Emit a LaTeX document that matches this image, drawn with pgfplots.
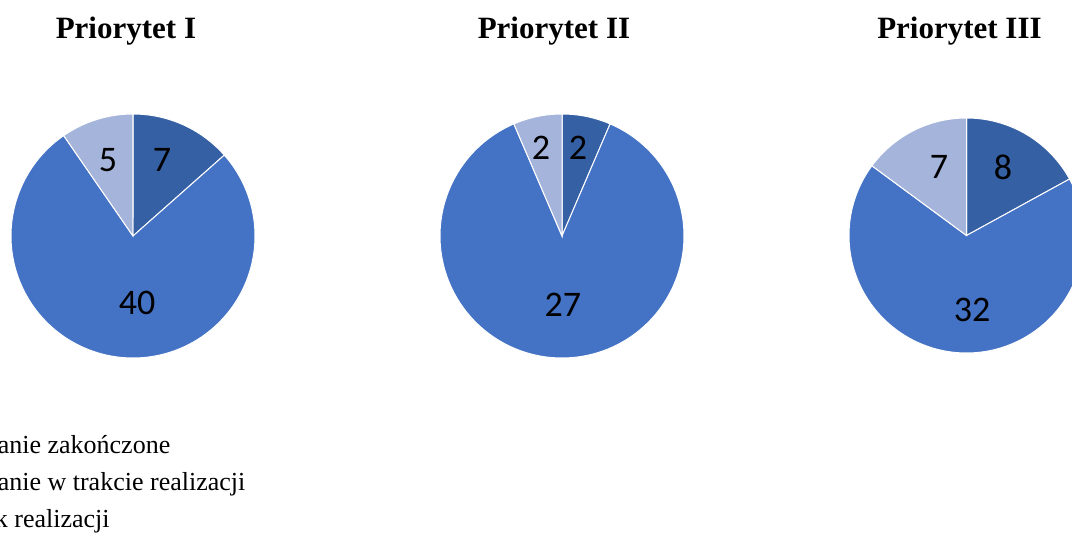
\documentclass[border=0pt]{standalone}
\usepackage{pgfplots}
\pgfplotsset{compat=1.18}
\usepackage{fontspec}
\setmainfont{Liberation Serif}
\newfontfamily\lblfont{Carlito}
\definecolor{cdark}{HTML}{3560A4}
\definecolor{cmid}{HTML}{4472C4}
\definecolor{clight}{HTML}{A5B4DB}

\pgfplotsset{
  pie/.style={hide axis, scale only axis, width=#1, height=#1,
    xmin=-1, xmax=1, ymin=-1, ymax=1, clip=false, anchor=center,
    title style={font=\bfseries\fontsize{31}{37}\selectfont, anchor=base}}
}
\tikzset{lbl/.style={font=\lblfont\fontsize{36}{36}\selectfont, inner sep=0pt}}
% \drawpie{done}{in progress}{none}: slices clockwise from 12 o'clock
\newcommand\drawpie[3]{%
  \addplot[fill=cdark, draw=white, line width=1pt, domain={90-360*(#1)/(#1+#2+#3)}:90, samples=90, variable=\t]
    ({cos(\t)},{sin(\t)}) -- (axis cs:0,0) -- cycle;
  \addplot[fill=cmid, draw=white, line width=1pt, domain={90-360*(#1+#2)/(#1+#2+#3)}:{90-360*(#1)/(#1+#2+#3)}, samples=180, variable=\t]
    ({cos(\t)},{sin(\t)}) -- (axis cs:0,0) -- cycle;
  \addplot[fill=clight, draw=white, line width=1pt, domain=-270:{90-360*(#1+#2)/(#1+#2+#3)}, samples=90, variable=\t]
    ({cos(\t)},{sin(\t)}) -- (axis cs:0,0) -- cycle;
}

\begin{document}
\begin{tikzpicture}
\path[use as bounding box, clip] (0pt,0pt) rectangle (1072pt,533pt);

% Priorytet I
\begin{axis}[pie=244pt, at={(133pt,297pt)},
  title={Priorytet I}, title style={at={(axis description cs:0.471,1.286)}},
  legend style={at={(axis description cs:-0.315,-0.520)}, anchor=west,
    draw=none, fill=none, inner sep=0pt,
    font=\fontsize{26}{31}\selectfont,
    nodes={inner sep=0pt, text height=18pt, text depth=6pt},
    row sep=13pt, column sep=8pt},
  legend cell align=left,
  legend image code/.code={\fill[#1] (0pt,-6pt) rectangle (14pt,8pt);}]
\drawpie{7}{40}{5}
\addlegendentry{Zadanie zakończone}
\addlegendentry{Zadanie w trakcie realizacji}
\addlegendentry{Brak realizacji}
\node[lbl] at (axis cs:0.238,0.623) {7};
\node[lbl] at (axis cs:-0.205,0.623) {5};
\node[lbl] at (axis cs:0.033,-0.549) {40};
\end{axis}

% Priorytet II
\begin{axis}[pie=244pt, at={(562pt,297pt)},
  title={Priorytet II}, title style={at={(axis description cs:0.467,1.286)}}]
\drawpie{2}{27}{2}
\node[lbl] at (axis cs:0.131,0.721) {2};
\node[lbl] at (axis cs:-0.172,0.721) {2};
\node[lbl] at (axis cs:0.008,-0.566) {27};
\end{axis}

% Priorytet III
\begin{axis}[pie=235pt, at={(966.5pt,297.5pt)},
  title={Priorytet III}, title style={at={(axis description cs:0.470,1.314)}}]
\drawpie{8}{32}{7}
\node[lbl] at (axis cs:0.311,0.583) {8};
\node[lbl] at (axis cs:-0.234,0.583) {7};
\node[lbl] at (axis cs:0.047,-0.634) {32};
\end{axis}
\end{tikzpicture}
\end{document}
